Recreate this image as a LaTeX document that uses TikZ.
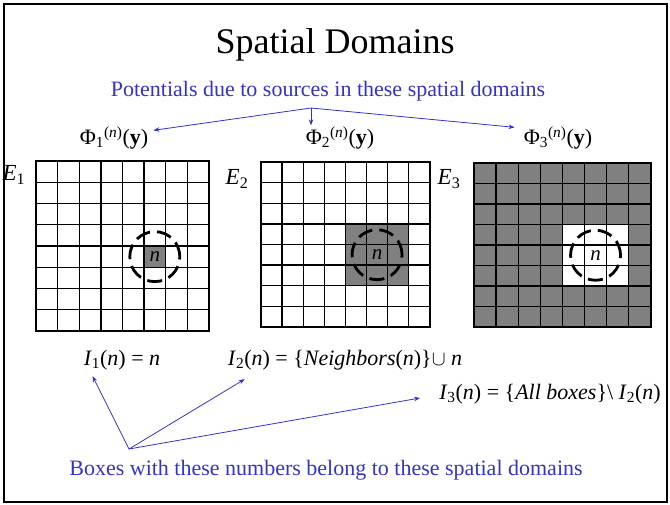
\documentclass[tikz,border=0pt]{standalone}
\usepackage{fontspec}
\setmainfont{Liberation Serif}
\usepackage{xcolor}
\usetikzlibrary{arrows.meta, calc}

\definecolor{slideblue}{RGB}{51,51,204}
\definecolor{cellgray}{RGB}{128,128,128}

\begin{document}
\begin{tikzpicture}[x=1pt, y=-1pt,
  titletext/.style={font=\fontsize{36}{40}\selectfont, inner sep=1pt},
  bluetext/.style={font=\fontsize{22}{26}\selectfont, text=slideblue, inner sep=1pt},
  phitext/.style={font=\fontsize{22}{26}\selectfont, inner sep=1pt},
  etext/.style={font=\fontsize{23}{26}\selectfont, inner sep=1pt},
  itext/.style={font=\fontsize{22}{26}\selectfont, inner sep=1pt},
  ntext/.style={font=\fontsize{21}{24}\selectfont\itshape, inner sep=0pt},
  gridline/.style={draw=black, line width=1.4pt},
  gridedge/.style={draw=black, line width=2.6pt},
  ring/.style={draw=black, line width=2.8pt, dash pattern=on 15pt off 7pt},
  arr/.style={-{Stealth[length=6pt, width=4.5pt]}, draw=slideblue, line width=0.8pt}
]
\useasboundingbox (0,0) rectangle (670,504);

%% --- Frame ---
\draw[line width=2.6pt] (4,4) rectangle (667,502);

%% --- Headings ---
\node[titletext] (title) at (335,45) {Spatial Domains};
\node[bluetext] (pot) at (328,91) {Potentials due to sources in these spatial domains};
\coordinate (tfork) at (311,108);

\node[phitext] (phi1) at (114,138) {Φ\textsubscript{1}\textsuperscript{(\textit{n})}(\textbf{y})};
\node[phitext] (phi2) at (340,138) {Φ\textsubscript{2}\textsuperscript{(\textit{n})}(\textbf{y})};
\node[phitext] (phi3) at (558,138) {Φ\textsubscript{3}\textsuperscript{(\textit{n})}(\textbf{y})};

\node[etext] (e1) at (14,175) {\textit{E}\textsubscript{1}};
\node[etext] (e2) at (237,179) {\textit{E}\textsubscript{2}};
\node[etext] (e3) at (449,179) {\textit{E}\textsubscript{3}};

%% --- Grid 1: box n only ---
\begin{scope}[shift={(36,161)}, x=21.6pt, y=-21.25pt]
  \fill[cellgray] (5,4) rectangle (6,5);
  \foreach \k in {0,...,8} {
    \draw[gridline] (\k,0) -- (\k,8);
    \draw[gridline] (0,\k) -- (8,\k);
  }
  \draw[gridedge] (0,0) rectangle (8,8);
  \coordinate (c1) at (5.5,4.5);
\end{scope}

%% --- Grid 2: n and its neighbours ---
\begin{scope}[shift={(261,162)}, x=21.1pt, y=-20.6pt]
  \fill[cellgray] (4,3) rectangle (7,6);
  \foreach \k in {0,...,8} {
    \draw[gridline] (\k,0) -- (\k,8);
    \draw[gridline] (0,\k) -- (8,\k);
  }
  \draw[gridedge] (0,0) rectangle (8,8);
  \coordinate (c2) at (5.5,4.5);
\end{scope}

%% --- Grid 3: all other boxes ---
\begin{scope}[shift={(474,163)}, x=22.1pt, y=-20.5pt]
  \fill[cellgray] (0,0) rectangle (8,8);
  \fill[white] (4,3) rectangle (7,6);
  \foreach \k in {0,...,8} {
    \draw[gridline] (\k,0) -- (\k,8);
    \draw[gridline] (0,\k) -- (8,\k);
  }
  \draw[gridedge] (0,0) rectangle (8,8);
  \coordinate (c3) at (5.5,4.5);
\end{scope}

%% --- Box n and dashed rings ---
\foreach \g in {1,2,3} {
  \node[ntext] (n\g) at (c\g) {n};
  \draw[ring] (c\g) circle[radius=25pt];
}

%% --- Index sets ---
\node[itext] (i1) at (122,360) {\textit{I}\textsubscript{1}(\textit{n}) = \textit{n}};
\node[itext] (i2) at (345,360) {\textit{I}\textsubscript{2}(\textit{n}) = \{\textit{Neighbors}(\textit{n})\}$\cup$ \textit{n}};
\node[itext] (i3) at (550,394) {\textit{I}\textsubscript{3}(\textit{n}) = \{\textit{All boxes}\}\textbackslash\ \textit{I}\textsubscript{2}(\textit{n})};

\node[bluetext] (boxes) at (326,470) {Boxes with these numbers belong to these spatial domains};
\coordinate (bfork) at (129,449);

%% --- Top arrows ---
\draw[arr] (tfork) -- ([xshift=4pt, yshift=-5pt]phi1.north east);
\draw[arr] (tfork) -- (tfork |- phi2.north);
\draw[arr] (tfork) -- ([xshift=-8pt, yshift=-2pt]phi3.north west);

%% --- Bottom arrows ---
\draw[arr] (bfork) -- ([xshift=10pt, yshift=-5pt]i1.south west);
\draw[arr] (bfork) -- ([xshift=18pt, yshift=-8pt]i2.south west);
\draw[arr] (bfork) -- ([xshift=-18pt, yshift=-4pt]i3.west);

\end{tikzpicture}
\end{document}
